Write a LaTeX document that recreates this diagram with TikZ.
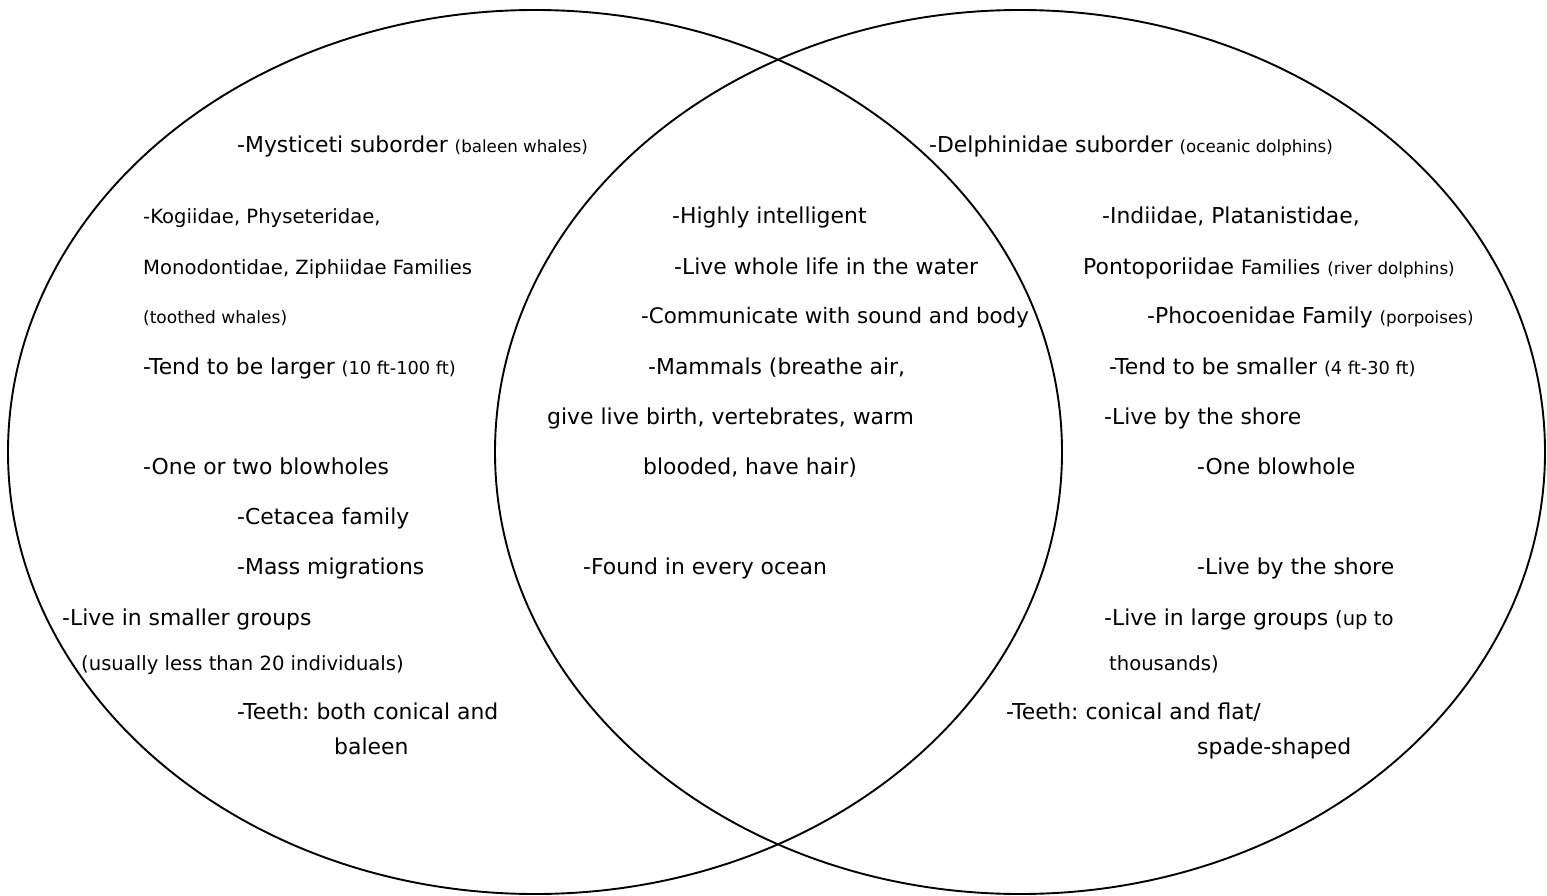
\documentclass[tikz,border=0pt]{standalone}
\usepackage{fontspec}
\setmainfont{DejaVu Sans}
\usetikzlibrary{shapes.geometric}
\newcommand\fsBig{\fontsize{21.9}{26}\selectfont\frenchspacing}
\newcommand\fsMid{\fontsize{19.6}{24}\selectfont\frenchspacing}
\newcommand\fsSm{\fontsize{16.7}{20}\selectfont}
\newcommand\fsNum{\fontsize{17.8}{20}\selectfont}
\tikzset{
  setring/.style={draw=black, line width=1.9pt, ellipse, inner sep=0pt, outer sep=0pt},
  big/.style={anchor=base west, inner sep=0pt, font=\fsBig},
  mid/.style={anchor=base west, inner sep=0pt, font=\fsMid},
  sml/.style={anchor=base west, inner sep=0pt, font=\fontsize{17}{20}\selectfont},
}
\begin{document}
\begin{tikzpicture}[x=1pt,y=-1pt]
\useasboundingbox[fill=white] (0,0) rectangle (1547,896);
\node[setring, minimum width=1054pt, minimum height=884pt] (L) at (535,452) {};
\node[setring, minimum width=1050pt, minimum height=884pt] (R) at (1020,452) {};
% left
\node[big] (l1) at (237,153) {-Mysticeti suborder {\fsSm(baleen whales)}};
\node[mid] (l2) at (143,223) {-Kogiidae, Physeteridae,};
\node[mid] (l3) at (143,274) {Monodontidae, Ziphiidae Families};
\node[sml] (l4) at (143,323) {(toothed whales)};
\node[big] (l5) at (143,374) {-Tend to be larger {\fsNum(10 ft-100 ft)}};
\node[big] (l6) at (143,474) {-One or two blowholes};
\node[big] (l7) at (237,524) {-Cetacea family};
\node[big] (l8) at (237,574) {-Mass migrations};
\node[big] (l9) at (62,625) {-Live in smaller groups};
\node[mid] (l10) at (81,670) {(usually less than 20 individuals)};
\node[big] (l11) at (237,719) {-Teeth: both conical and};
\node[big] (l12) at (334,754) {baleen};
% middle
\node[big] (m1) at (672,223) {-Highly intelligent};
\node[big] (m2) at (674,274) {-Live whole life in the water};
\node[big, font=\fontsize{21.4}{26}\selectfont] (m3) at (641,323) {-Communicate with sound and body};
\node[big] (m4) at (648,374) {-Mammals (breathe air,};
\node[big] (m5) at (547,424) {give live birth, vertebrates, warm};
\node[big] (m6) at (643,474) {blooded, have hair)};
\node[big] (m7) at (583,574) {-Found in every ocean};
% right
\node[big] (r1) at (929,153) {-Delphinidae suborder {\fsSm(oceanic dolphins)}};
\node[big] (r2) at (1102,223) {-Indiidae, Platanistidae,};
\node[big] (r3) at (1083,274) {Pontoporiidae {\fsMid Families} {\fsSm(river dolphins)}};
\node[big] (r4) at (1147,323) {-Phocoenidae Family {\fsSm(porpoises)}};
\node[big] (r5) at (1109,374) {-Tend to be smaller {\fsNum(4 ft-30 ft)}};
\node[big] (r6) at (1104,424) {-Live by the shore};
\node[big] (r7) at (1197,474) {-One blowhole};
\node[big] (r8) at (1197,574) {-Live by the shore};
\node[big] (r9) at (1104,625) {-Live in large groups {\fsMid(up to}};
\node[mid] (r10) at (1109,670) {thousands)};
\node[big] (r11) at (1006,719) {-Teeth: conical and flat/};
\node[big] (r12) at (1197,754) {spade-shaped};
\end{tikzpicture}
\end{document}
